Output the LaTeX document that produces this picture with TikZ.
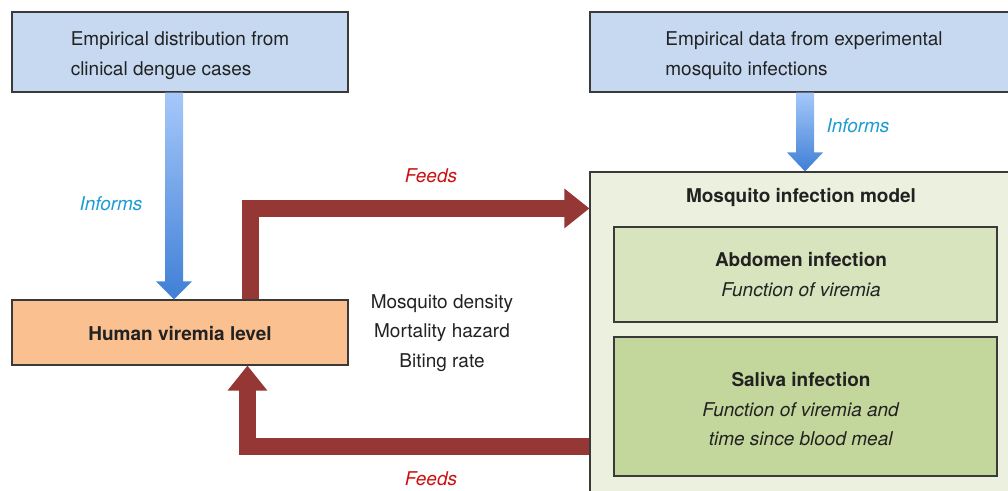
\documentclass[tikz,border=0pt]{standalone}
\usepackage{fontspec}
\setmainfont{TeX Gyre Heros}
\usetikzlibrary{calc,arrows.meta}
\definecolor{boxblue}{HTML}{C6D9F1}
\definecolor{boxorange}{HTML}{FAC090}
\definecolor{greenA}{HTML}{EBF1DE}
\definecolor{greenB}{HTML}{D7E4BD}
\definecolor{greenC}{HTML}{C3D69B}
\definecolor{arrowred}{HTML}{953735}
\definecolor{feedred}{HTML}{CC1111}
\definecolor{informblue}{HTML}{1C9CD2}
\definecolor{bluetop}{HTML}{A6C8FA}
\definecolor{bluebot}{HTML}{3F7FD6}
\definecolor{edge}{HTML}{3A3A3A}
\definecolor{txt}{HTML}{222222}
\newcommand{\fsz}{\fontsize{19}{29.5}\selectfont}
\tikzset{
  base/.style={font=\fsz, text=txt},
  box/.style={draw=edge, line width=1.1pt, inner sep=0pt},
  lbl/.style={base, inner sep=0pt},
  redarrow/.style={draw=arrowred, line width=16.5pt, line join=miter,
    -{Triangle[width=38pt,length=25pt]}},
}
\begin{document}
\begin{tikzpicture}[x=1pt,y=-1pt]
\useasboundingbox (0,0) rectangle (1008,490);
\clip (0,0) rectangle (1008,490);
% boxes
\node[box, fill=boxblue, minimum width=336pt, minimum height=80pt] (src1) at (180,52) {};
\node[lbl, align=left] (src1t) at (180,55.5) {Empirical distribution from\\clinical dengue cases};
\node[box, fill=boxblue, minimum width=428pt, minimum height=80pt] (src2) at (804,52) {};
\node[lbl, align=left] (src2t) at (804,55.5) {Empirical data from experimental\\mosquito infections};
\node[box, fill=boxorange, minimum width=336pt, minimum height=65pt] (human) at (180,332.5) {};
\node[lbl, font=\fsz\bfseries] (humant) at (180,334) {Human viremia level};
\node[box, fill=greenA, minimum width=430pt, minimum height=340pt] (mosq) at (805,342) {};
\node[lbl, font=\fsz\bfseries] (mtitle) at (801,197) {Mosquito infection model};
\node[box, fill=greenB, minimum width=383pt, minimum height=95pt] (abd) at (805.5,274.5) {};
\node[lbl, align=center] (abdt) at (801,274.5) {\textbf{Abdomen infection}\\\textit{Function of viremia}};
\node[box, fill=greenC, minimum width=383pt, minimum height=139pt] (sal) at (805.5,406.5) {};
\node[lbl, align=center] (salt) at (801,409.5)
  {\textbf{Saliva infection}\\\textit{Function of viremia and}\\\textit{time since blood meal}};
\node[lbl, align=center] (mid) at (442,333)
  {Mosquito density\\Mortality hazard\\Biting rate};
% blue arrows
\coordinate (a1s) at ($(src1.south)+(-6,0)$);
\coordinate (a1e) at ($(human.north)+(-6,0)$);
\shade[top color=bluetop, bottom color=bluebot]
  ($(a1s)+(-9,0)$) -- ($(a1s)+(9,0)$) -- ($(a1e)+(9,-18)$) -- ($(a1e)+(18,-18)$)
  -- (a1e) -- ($(a1e)+(-18,-18)$) -- ($(a1e)+(-9,-18)$) -- cycle;
\coordinate (a2s) at ($(src2.south)+(1,0)$);
\coordinate (a2e) at ($(mosq.north)+(0,0)$);
\shade[top color=bluetop, bottom color=bluebot]
  ($(a2s)+(-9,0)$) -- ($(a2s)+(9,0)$) -- ($(a2e)+(9,-19)$) -- ($(a2e)+(18,-19)$)
  -- (a2e) -- ($(a2e)+(-18,-19)$) -- ($(a2e)+(-9,-19)$) -- cycle;
% red arrows
\draw[redarrow] ($(human.north east)+(-98,0)$) |- ($(mosq.north west)+(0,37)$);
\draw[redarrow] ($(mosq.north west)+(0,275)$) -| ($(human.south west)+(236,0)$);
% labels
\node[lbl, text=informblue, font=\fsz\itshape] (inf1) at (111,204) {Informs};
\node[lbl, text=informblue, font=\fsz\itshape] (inf2) at (858,126) {Informs};
\node[lbl, text=feedred, font=\fsz\itshape] (fd1) at (431,176) {Feeds};
\node[lbl, text=feedred, font=\fsz\itshape] (fd2) at (431,479) {Feeds};
\end{tikzpicture}
\end{document}
